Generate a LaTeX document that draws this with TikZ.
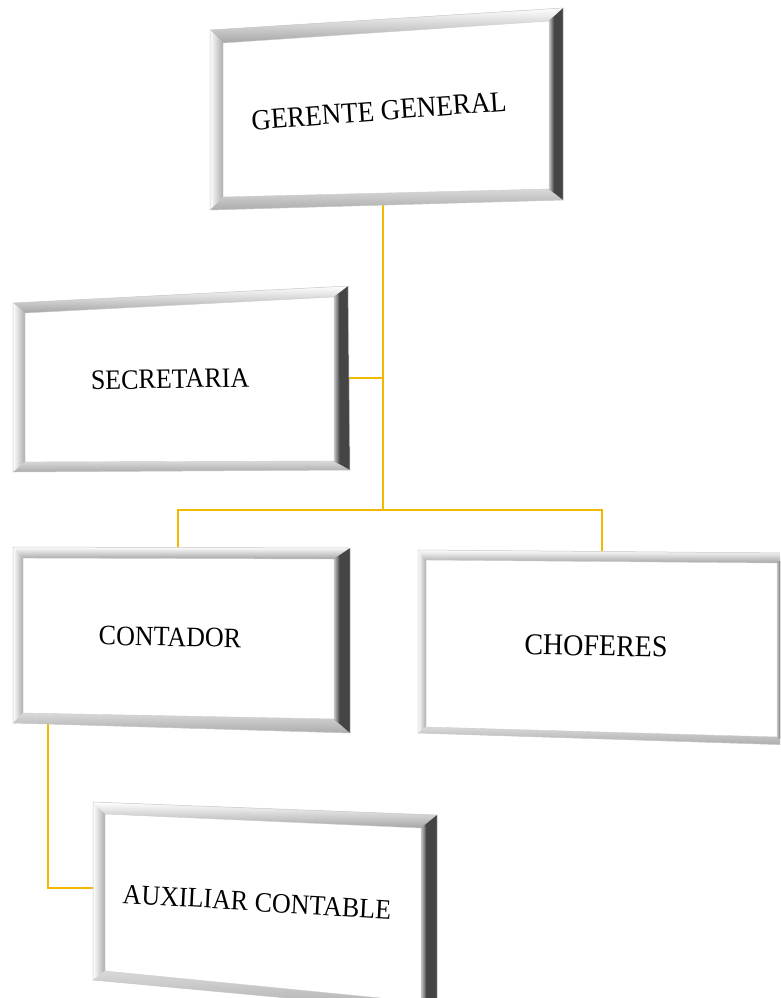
\documentclass[tikz,border=0pt]{standalone}
\usepackage{fontspec}
\setmainfont{Liberation Serif}
\usetikzlibrary{calc}
\definecolor{gold}{RGB}{242,184,0}
\tikzset{
  lbl/.style={font=\fontsize{26}{30}\selectfont, inner sep=0pt, yscale=1.08},
  link/.style={draw=gold, line width=2pt},
}
% bevelled frame built from the named corner coordinates (#1-A ... #1-d)
\newcommand\bevelbox[1]{%
  \fill[white] (#1-A)--(#1-B)--(#1-C)--(#1-D)--cycle;
  \shade[top color=white,bottom color=gray!70] (#1-A)--(#1-B)--(#1-b)--(#1-a)--cycle;
  \shade[left color=white,right color=gray!65] (#1-A)--(#1-a)--(#1-d)--(#1-D)--cycle;
  \shade[top color=gray!30,bottom color=gray!65] (#1-d)--(#1-c)--(#1-C)--(#1-D)--cycle;
  \fill[black!73] (#1-b)--(#1-B)--(#1-C)--(#1-c)--cycle;
  \shade[left color=gray!45,right color=black!73]
     (#1-b)--($(#1-b)!0.35!(#1-B)$)--($(#1-c)!0.35!(#1-C)$)--(#1-c)--cycle;
  \draw[gray!45,line width=0.5pt] (#1-A)--(#1-B)--(#1-C)--(#1-D)--cycle;
  \draw[gray!40,line width=0.4pt] (#1-a)--(#1-b)--(#1-c)--(#1-d)--cycle;
}
\begin{document}
\begin{tikzpicture}[x=1pt,y=-1pt]
\useasboundingbox (0,0) rectangle (780,998);
\clip (0,0) rectangle (780,998);
\fill[white] (0,0) rectangle (780,998);

% ---- corner coordinates ----
% Gerente general
\coordinate (g-A) at (210,30);  \coordinate (g-B) at (563,8);
\coordinate (g-C) at (563,200); \coordinate (g-D) at (210,210);
\coordinate (g-a) at (223,43);  \coordinate (g-b) at (549,21);
\coordinate (g-c) at (549,189); \coordinate (g-d) at (223,197);
% Secretaria
\coordinate (s-A) at (13,303);  \coordinate (s-B) at (348,286);
\coordinate (s-C) at (350,470); \coordinate (s-D) at (13,472);
\coordinate (s-a) at (25,313);  \coordinate (s-b) at (334,297);
\coordinate (s-c) at (334,461); \coordinate (s-d) at (25,462);
% Contador
\coordinate (c-A) at (13,547);  \coordinate (c-B) at (350,548);
\coordinate (c-C) at (350,733); \coordinate (c-D) at (13,723);
\coordinate (c-a) at (23,558);  \coordinate (c-b) at (334,559);
\coordinate (c-c) at (334,719); \coordinate (c-d) at (23,713);
% Choferes
\coordinate (h-A) at (418,550); \coordinate (h-B) at (792,553);
\coordinate (h-C) at (792,745); \coordinate (h-D) at (418,733);
\coordinate (h-a) at (426,560); \coordinate (h-b) at (777,563);
\coordinate (h-c) at (777,737); \coordinate (h-d) at (426,727);
% Auxiliar contable
\coordinate (x-A) at (93,802);  \coordinate (x-B) at (437,815);
\coordinate (x-C) at (437,1012);\coordinate (x-D) at (93,980);
\coordinate (x-a) at (105,814); \coordinate (x-b) at (421,828);
\coordinate (x-c) at (421,1002);\coordinate (x-d) at (105,971);

% ---- connectors (drawn first, boxes cover the ends) ----
\coordinate (g-out) at (383,205);
\coordinate (j1) at (383,378);
\coordinate (j2) at (383,510);
\coordinate (s-in) at (348,378);
\coordinate (c-in) at (178,549);
\coordinate (h-in) at (602,552);
\coordinate (c-out) at (48,722);
\coordinate (x-in) at (94,888);
\draw[link] (g-out) -- (j2);
\draw[link] (j1) -- (s-in);
\draw[link] (c-in) |- (j2) -| (h-in);
\draw[link] (c-out) |- (x-in);

% ---- boxes ----
\bevelbox{g}
\bevelbox{s}
\bevelbox{c}
\bevelbox{h}
\bevelbox{x}

% ---- labels ----
\node[lbl,rotate=4,font=\fontsize{27}{31}\selectfont] (gg) at (379,111) {GERENTE GENERAL};
\node[lbl,rotate=1]  (se) at (170,379) {SECRETARIA};
\node[lbl,rotate=-1] (co) at (170,637) {CONTADOR};
\node[lbl,rotate=-1,font=\fontsize{28}{32}\selectfont] (ch) at (596,646) {CHOFERES};
\node[lbl,rotate=-3.2] (ax) at (257,902) {AUXILIAR CONTABLE};
\end{tikzpicture}
\end{document}
